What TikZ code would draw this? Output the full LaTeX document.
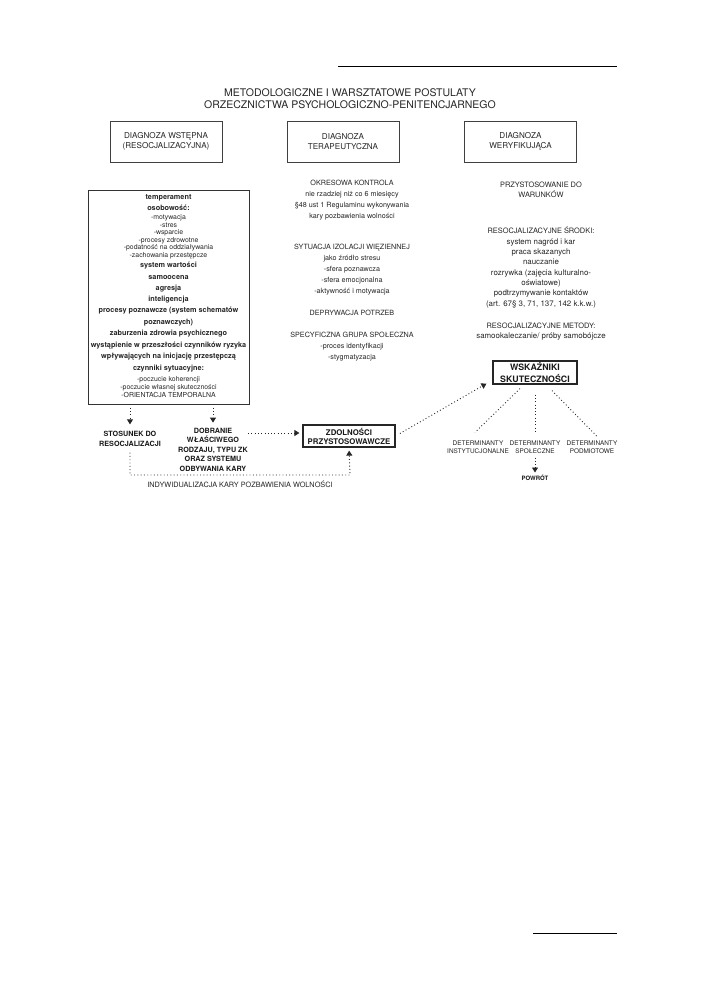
\documentclass[tikz,border=0pt]{standalone}
\usepackage{fontspec}
\setmainfont{TeX Gyre Heros}
\usetikzlibrary{arrows.meta,calc}
\newcommand\myfs[2]{\fontsize{#1}{#2}\selectfont}
\begin{document}
\begin{tikzpicture}[x=1pt,y=-1pt,
  ln/.style={anchor=base, inner sep=0pt, text=black!85},
  lb/.style={font=\bfseries\myfs{7.3}{9}},
  ls/.style={font=\myfs{6.9}{8}},
  mc/.style={font=\myfs{7.2}{9}},
  rc/.style={font=\myfs{7.4}{9}},
  rl/.style={font=\myfs{7.9}{9}},
  topbox/.style={draw=black!75, line width=0.6pt, minimum width=112pt, minimum height=41pt,
    align=center, inner sep=0pt, text=black!85, font=\myfs{8.1}{9.5}},
  boldlbl/.style={align=center, inner sep=0pt, text=black!90, font=\bfseries\myfs{7.2}{9.5}},
  thickbox/.style={draw=black!85, line width=1.2pt, align=center, inner sep=0pt, text=black!90},
  detlbl/.style={align=center, inner sep=0pt, text=black!85, font=\myfs{6.4}{8}},
  dotline/.style={line width=0.9pt, dash pattern=on 0.9pt off 2.4pt, draw=black!85},
  arr/.style={-{Triangle[width=6pt,length=5pt]}}
]
\fill[white] (0,0) rectangle (702,999);
\useasboundingbox (0,0) rectangle (702,999);

% rules
\draw[line width=1pt] (338,66) -- (617,66);
\draw[line width=1pt] (533,933) -- (617,933);

% title
\node[align=center, inner sep=0pt, text=black!85, font=\myfs{10.5}{12}] (title) at (350,99)
  {METODOLOGICZNE I WARSZTATOWE POSTULATY\\ORZECZNICTWA PSYCHOLOGICZNO-PENITENCJARNEGO};

% top boxes
\node[topbox] (d1) at (166,141.5) {DIAGNOZA WSTĘPNA\\(RESOCJALIZACYJNA)};
\node[topbox] (d2) at (343,141.5) {DIAGNOZA\\TERAPEUTYCZNA};
\node[topbox] (d3) at (520.5,141.5) {DIAGNOZA\\WERYFIKUJĄCA};

% left box
\node[draw=black!80, line width=0.7pt, minimum width=161pt, minimum height=214pt, inner sep=0pt] (lbox) at (168.5,297) {};
\foreach \yy/\st/\tx [count=\i] in {
  199.5/lb/temperament,
  210/lb/osobowość:,
  219.5/ls/-motywacja,
  227/ls/-stres,
  234.5/ls/-wsparcie,
  242/ls/-procesy zdrowotne,
  249.5/ls/-podatność na oddziaływania,
  257/ls/-zachowania przestępcze,
  267.5/lb/system wartości,
  279/lb/samoocena,
  290/lb/agresja,
  301.5/lb/inteligencja,
  312.5/lb/procesy poznawcze (system schematów,
  324/lb/poznawczych),
  335.5/lb/zaburzenia zdrowia psychicznego,
  347/lb/wystąpienie w przeszłości czynników ryzyka,
  358.5/lb/wpływających na inicjację przestępczą,
  370/lb/czynniki sytuacyjne:,
  381/ls/-poczucie koherencji,
  389/ls/-poczucie własnej skuteczności,
  397/ls/-ORIENTACJA TEMPORALNA}
  \node[ln,\st] (l\i) at (168.5,\yy) {\tx};

% middle column
\foreach \yy/\tx [count=\i] in {
  185.6/OKRESOWA KONTROLA,
  196.6/nie rzadziej niż co 6 miesięcy,
  207.6/§48 ust 1 Regulaminu wykonywania,
  218.6/kary pozbawienia wolności,
  249.6/SYTUACJA IZOLACJI WIĘZIENNEJ,
  260.6/jako źródło stresu,
  271.6/-sfera poznawcza,
  282.6/-sfera emocjonalna,
  293.6/-aktywność i motywacja,
  315.6/DEPRYWACJA POTRZEB,
  337.6/SPECYFICZNA GRUPA SPOŁECZNA,
  348.6/-proces identyfikacji,
  359.6/-stygmatyzacja}
  \node[ln,mc] (m\i) at (352,\yy) {\tx};

% right column
\foreach \yy/\st/\tx [count=\i] in {
  187.6/rc/PRZYSTOSOWANIE DO,
  197.6/rc/WARUNKÓW,
  233.6/rc/RESOCJALIZACYJNE ŚRODKI:,
  244/rl/system nagród i kar,
  254.6/rl/praca skazanych,
  264.6/rl/nauczanie,
  275/rl/rozrywka (zajęcia kulturalno-,
  285.6/rl/oświatowe),
  295.6/rl/podtrzymywanie kontaktów,
  306/rl/{(art. 67§ 3, 71, 137, 142 k.k.w.)},
  328.6/rc/RESOCJALIZACYJNE METODY:,
  338.6/rl/{samookaleczanie/ próby samobójcze}}
  \node[ln,\st] (r\i) at (541,\yy) {\tx};

% lower nodes
\node[boldlbl] (stos) at (130,439) {STOSUNEK DO\\RESOCJALIZACJI};
\node[boldlbl] (dobr) at (213,449.5) {DOBRANIE\\WŁAŚCIWEGO\\RODZAJU, TYPU ZK\\ORAZ SYSTEMU\\ODBYWANIA KARY};
\node[thickbox, minimum width=92pt, minimum height=22pt, font=\bfseries\myfs{7.8}{9}] (zdol) at (349,436) {ZDOLNOŚCI\\PRZYSTOSOWAWCZE};
\node[thickbox, minimum width=84pt, minimum height=23pt, font=\bfseries\myfs{8.8}{12}] (wsk) at (535,372.5) {WSKAŹNIKI\\SKUTECZNOŚCI};
\node[detlbl] (detI) at (478,447) {DETERMINANTY\\INSTYTUCJONALNE};
\node[detlbl] (detS) at (535,447) {DETERMINANTY\\SPOŁECZNE};
\node[detlbl] (detP) at (592,447) {DETERMINANTY\\PODMIOTOWE};
\node[inner sep=0pt, text=black!90, font=\bfseries\myfs{6}{7}] (powrot) at (535,478) {POWRÓT};
\node[inner sep=0pt, text=black!85, font=\myfs{7.3}{9}] (indiv) at (240,484) {INDYWIDUALIZACJA KARY POZBAWIENIA WOLNOŚCI};

\coordinate (indL) at (130,475);
\coordinate (indR) at (350,475);

% connectors
\draw[dotline,arr,shorten >=7pt] (lbox.south -| stos) -- (stos.north);
\draw[dotline,arr,shorten >=5pt] (lbox.south -| dobr) -- (dobr.north);
\draw[dotline,arr,shorten >=3pt] ([yshift=3pt]zdol.west -| dobr.east) -- ([yshift=3pt]zdol.west);
\draw[dotline,arr,shorten >=3pt] ([yshift=-6pt]stos.south) -- (indL) -- (indR) -- (zdol.south);
\draw[dotline,arr,shorten <=5pt] (zdol.east) -- ([xshift=-6pt,yshift=1pt]wsk.south west);
\draw[dotline] ([xshift=-15pt,yshift=-4pt]wsk.south) -- ([xshift=-3pt,yshift=8pt]detI.north);
\draw[dotline] ([yshift=-10pt]wsk.south) -- ([yshift=8pt]detS.north);
\draw[dotline] ([xshift=17pt,yshift=-6pt]wsk.south) -- ([xshift=5pt,yshift=4pt]detP.north);
\draw[dotline,arr,shorten <=4pt,shorten >=2.5pt] (detS.south) -- (powrot.north);
\end{tikzpicture}
\end{document}
